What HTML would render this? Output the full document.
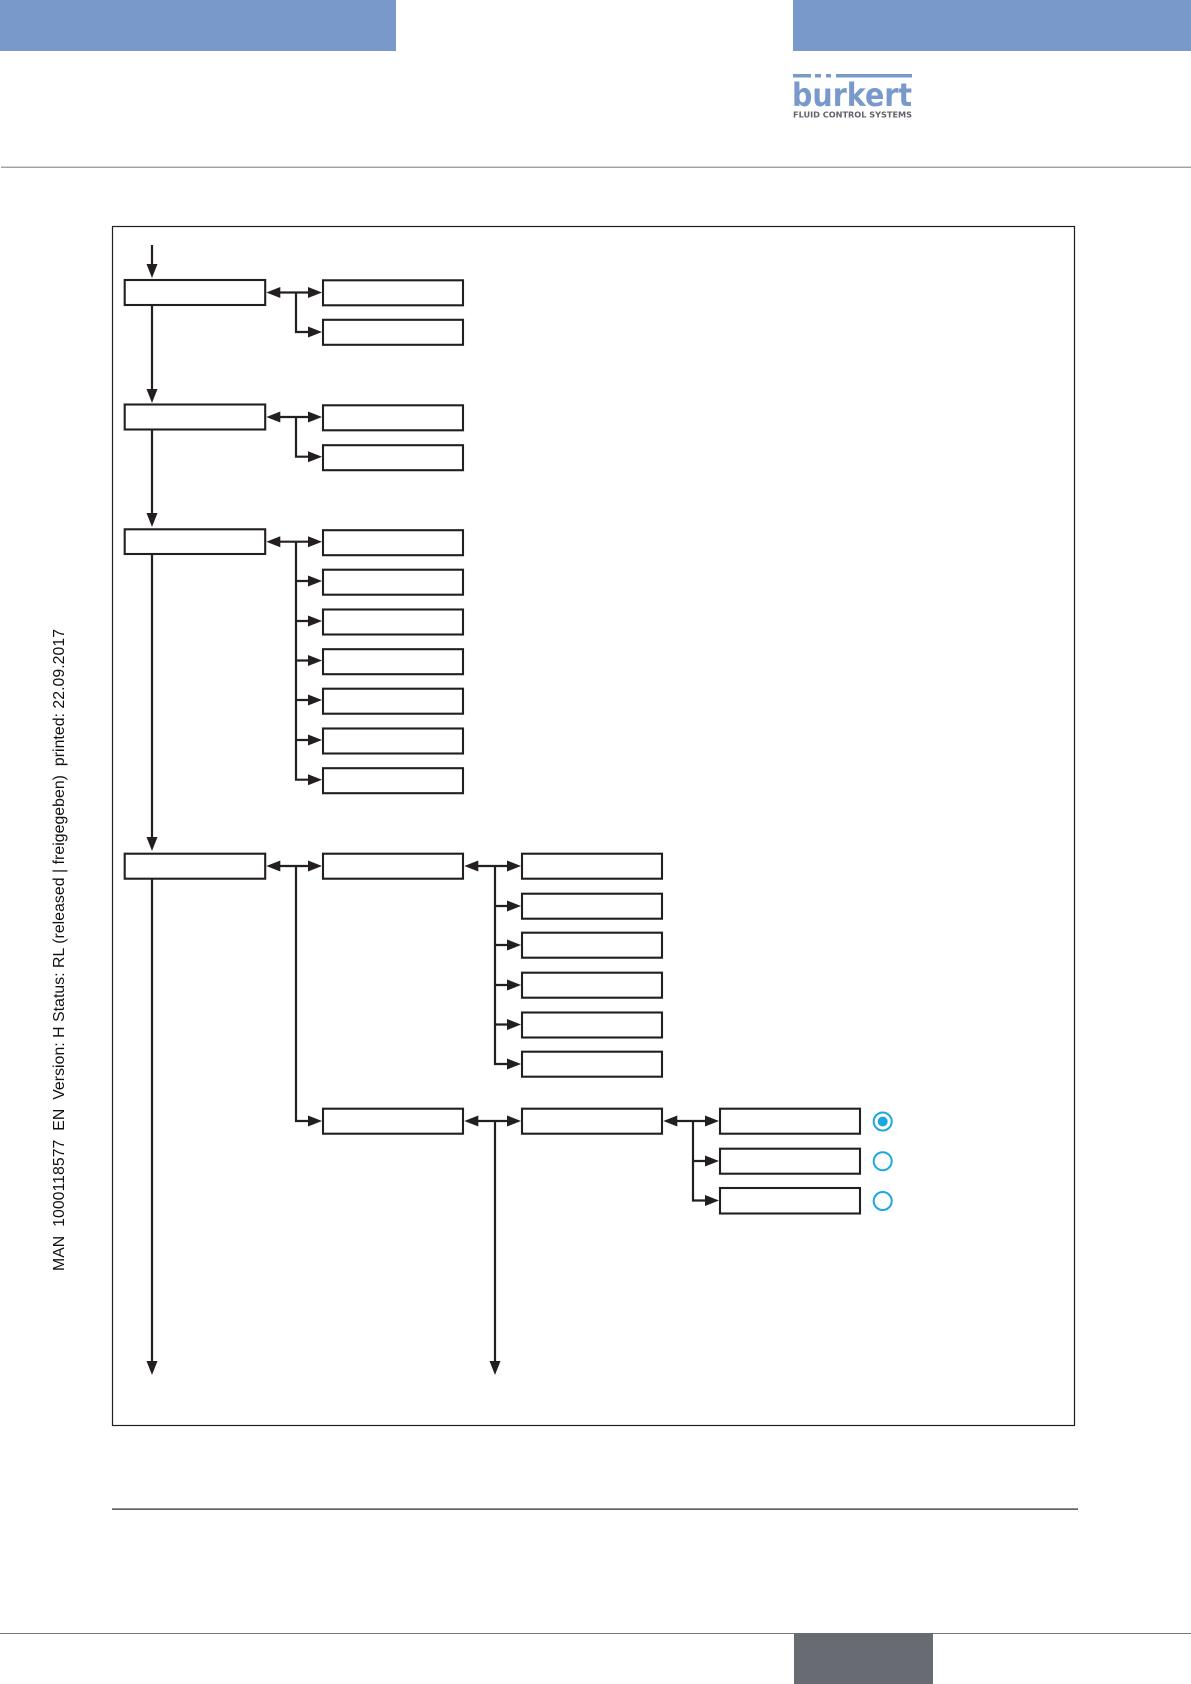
<!DOCTYPE html>
<html><head><meta charset="utf-8"><style>
html,body{margin:0;padding:0;background:#fff;width:1191px;height:1684px;overflow:hidden}
svg{display:block}
</style></head><body>
<svg width="1191" height="1684" viewBox="0 0 1191 1684" xmlns="http://www.w3.org/2000/svg">
<defs>
<g id="r"><path d="M-14,-5.5 L0,0 L-14,5.5 Z" fill="#231f20"/></g>
<g id="l"><path d="M14,-5.5 L0,0 L14,5.5 Z" fill="#231f20"/></g>
<g id="d"><path d="M-5.5,-14 L0,0 L5.5,-14 Z" fill="#231f20"/></g>
</defs>
<rect width="1191" height="1684" fill="#fff"/>
<rect x="0" y="0" width="396" height="51" fill="#7899ca"/>
<rect x="793" y="0" width="398" height="51" fill="#7899ca"/>
<rect x="793" y="74" width="18" height="3.5" fill="#7899ca"/>
<rect x="815" y="74" width="6" height="3.5" fill="#7899ca"/>
<rect x="826" y="74" width="5" height="3.5" fill="#7899ca"/>
<rect x="836" y="74" width="76" height="3.5" fill="#7899ca"/>
<text x="792" y="106" font-family="DejaVu Sans" font-weight="bold" font-size="32" fill="#7899ca" textLength="120" lengthAdjust="spacingAndGlyphs">burkert</text>
<text x="793" y="117.5" font-family="DejaVu Sans" font-weight="bold" font-size="7.6" fill="#5f6368" textLength="119" lengthAdjust="spacingAndGlyphs">FLUID CONTROL SYSTEMS</text>
<rect x="1" y="166.7" width="1190" height="1" fill="#77787b"/>
<rect x="112.5" y="226.5" width="962" height="1199" fill="none" stroke="#231f20" stroke-width="1.2"/>
<rect x="112" y="1508.5" width="966" height="1.2" fill="#231f20"/>
<rect x="0" y="1633" width="1191" height="1" fill="#77787b"/>
<rect x="794" y="1633" width="139" height="51" fill="#696b73"/>
<text transform="translate(64,1271) rotate(-90)" font-family="Liberation Sans" font-size="15.8" fill="#111" textLength="642" xml:space="preserve">MAN  1000118577  EN  Version: H Status: RL (released | freigegeben)  printed: 22.09.2017</text>

<g fill="#fff" stroke="#231f20" stroke-width="2.1">
<rect x="124.7" y="280" width="140.5" height="25"/>
<rect x="124.7" y="404.5" width="140.5" height="25"/>
<rect x="124.7" y="529.3" width="140.5" height="24.7"/>
<rect x="124.7" y="853.7" width="140.5" height="25"/>
<rect x="323" y="280.3" width="140" height="25"/>
<rect x="323" y="319.8" width="140" height="25"/>
<rect x="323" y="405.3" width="140" height="25"/>
<rect x="323" y="445.2" width="140" height="25"/>
<rect x="323" y="530.2" width="140" height="25"/>
<rect x="323" y="569.7" width="140" height="25"/>
<rect x="323" y="609.5" width="140" height="25"/>
<rect x="323" y="649.2" width="140" height="25"/>
<rect x="323" y="688.7" width="140" height="25"/>
<rect x="323" y="728.5" width="140" height="25"/>
<rect x="323" y="768.2" width="140" height="25"/>
<rect x="323" y="853.7" width="140" height="25"/>
<rect x="323" y="1108.7" width="140" height="25"/>
<rect x="522" y="853.7" width="140" height="25"/>
<rect x="522" y="893.7" width="140" height="25"/>
<rect x="522" y="932.7" width="140" height="25"/>
<rect x="522" y="972.7" width="140" height="25"/>
<rect x="522" y="1012.5" width="140" height="25"/>
<rect x="522" y="1051.7" width="140" height="25"/>
<rect x="522" y="1108.7" width="140" height="25"/>
<rect x="720" y="1108.7" width="140" height="25"/>
<rect x="720" y="1148.7" width="140" height="25"/>
<rect x="720" y="1188" width="140" height="25.5"/>
</g>

<g fill="none" stroke="#231f20" stroke-width="2.2">
<path d="M152,245V266M152,305V392M152,430V516M152,554V838M152,879V1362"/>
<path d="M495,1121V1362"/>
<path d="M275,292.5H311M296,292.5V332H311"/>
<path d="M275,417H311M296,417V456.7H311"/>
<path d="M275,541.7H311M296,541.7V779.7H311M296,581H311M296,621H311M296,660.5H311M296,700H311M296,740H311"/>
<path d="M275,866H311M296,866V1121H311"/>
<path d="M473,866H510M495,866V1064H510M495,906H510M495,945H510M495,985H510M495,1024.5H510"/>
<path d="M473,1121H510"/>
<path d="M671,1121H708M693,1121V1200.5H708M693,1161H708"/>
</g>

<use href="#d" x="152" y="278"/><use href="#d" x="152" y="403"/><use href="#d" x="152" y="527"/><use href="#d" x="152" y="851"/>
<use href="#d" x="152" y="1375"/><use href="#d" x="495" y="1375"/>
<use href="#l" x="266.3" y="292.5"/><use href="#l" x="266.3" y="417"/><use href="#l" x="266.3" y="541.7"/><use href="#l" x="266.3" y="866"/>
<use href="#l" x="464.3" y="866"/><use href="#l" x="464.3" y="1121"/><use href="#l" x="663.3" y="1121"/>
<use href="#r" x="322" y="292.5"/><use href="#r" x="322" y="332"/><use href="#r" x="322" y="417"/><use href="#r" x="322" y="456.7"/>
<use href="#r" x="322" y="541.7"/><use href="#r" x="322" y="581"/><use href="#r" x="322" y="621"/><use href="#r" x="322" y="660.5"/><use href="#r" x="322" y="700"/><use href="#r" x="322" y="740"/><use href="#r" x="322" y="779.7"/>
<use href="#r" x="322" y="866"/><use href="#r" x="322" y="1121"/>
<use href="#r" x="521" y="866"/><use href="#r" x="521" y="906"/><use href="#r" x="521" y="945"/><use href="#r" x="521" y="985"/><use href="#r" x="521" y="1024.5"/><use href="#r" x="521" y="1064"/><use href="#r" x="521" y="1121"/>
<use href="#r" x="719" y="1121"/><use href="#r" x="719" y="1161"/><use href="#r" x="719" y="1200.5"/>

<g fill="none" stroke="#1ba8e0" stroke-width="2">
<circle cx="882.7" cy="1121.5" r="9"/>
<circle cx="882.7" cy="1161.2" r="9"/>
<circle cx="882.7" cy="1201" r="9"/>
</g>
<circle cx="882.7" cy="1121.5" r="5" fill="#1ba8e0"/>
</svg>
</body></html>
